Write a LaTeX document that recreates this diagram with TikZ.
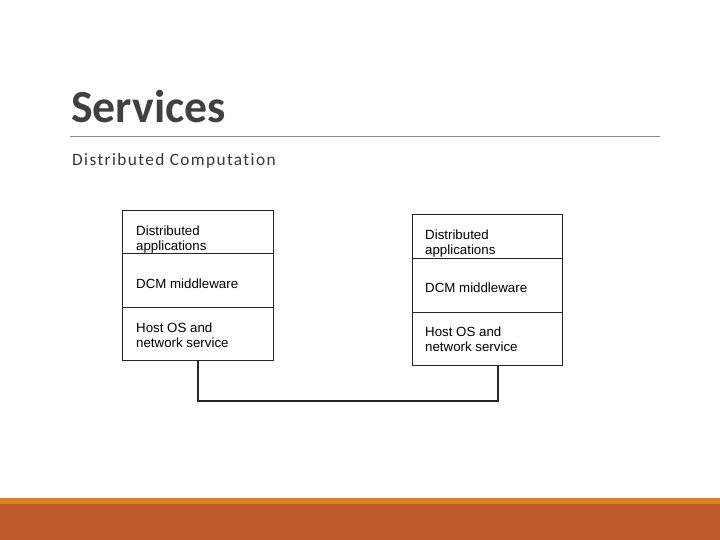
\documentclass[tikz,border=0pt]{standalone}
\usepackage{fontspec}
\setmainfont{Carlito}
\newfontfamily\boxfont{Liberation Sans}
\newfontfamily\subfont[LetterSpace=8,Ligatures=NoCommon]{Carlito}
\definecolor{titlegray}{HTML}{404040}
\definecolor{rulegray}{HTML}{8C8C8C}
\definecolor{barlight}{HTML}{E08119}
\definecolor{bardark}{HTML}{BE5A2C}
\begin{document}
\begin{tikzpicture}[x=1pt,y=-1pt,
  boxline/.style={draw=black!85,line width=1.1pt},
  boxtext/.style={anchor=west,align=left,font=\boxfont\fontsize{13.3}{15}\selectfont,inner sep=0pt,text=black},
  wire/.style={draw=black!85,line width=1.1pt}]
\useasboundingbox (0,0) rectangle (720,540);
% bottom bars
\fill[barlight] (0,497.5) rectangle (720,504);
\fill[bardark] (0,504) rectangle (720,540);
% title
\node[anchor=base west,inner sep=0pt,text=titlegray,font=\bfseries\fontsize{46}{46}\selectfont] (title) at (71,123) {\scalebox{0.995}[1]{Services}};
\draw[rulegray,line width=0.8pt] (70,136.5) -- (660,136.5);
\node[anchor=base west,inner sep=0pt,text=titlegray!85!black,font=\subfont\fontsize{17.3}{17.3}\selectfont] (sub) at (72,166) {Distributed Computation};
% left stack
\node[boxline,minimum width=151pt,minimum height=43pt,anchor=north west,inner sep=0pt] (la) at (122,210) {};
\node[boxline,minimum width=151pt,minimum height=54pt,anchor=north west,inner sep=0pt] (lb) at (122,253) {};
\node[boxline,minimum width=151pt,minimum height=53pt,anchor=north west,inner sep=0pt] (lc) at (122,307) {};
\node[boxtext] (lat) at (136,239.5) {Distributed\\applications};
\node[boxtext] (lbt) at (136,284) {DCM middleware};
\node[boxtext] (lct) at (136,335) {Host OS and\\network service};
% right stack
\node[boxline,minimum width=150pt,minimum height=44pt,anchor=north west,inner sep=0pt] (ra) at (412,214) {};
\node[boxline,minimum width=150pt,minimum height=54pt,anchor=north west,inner sep=0pt] (rb) at (412,258) {};
\node[boxline,minimum width=150pt,minimum height=53pt,anchor=north west,inner sep=0pt] (rc) at (412,312) {};
\node[boxtext] (rat) at (425,243.5) {Distributed\\applications};
\node[boxtext] (rbt) at (425,288) {DCM middleware};
\node[boxtext] (rct) at (425,339) {Host OS and\\network service};
% connector
\coordinate (lw) at (198,360);
\coordinate (rw) at (498,365);
\draw[wire] (lw) -- (198,401) -- (498,401) -- (rw);
\end{tikzpicture}
\end{document}
